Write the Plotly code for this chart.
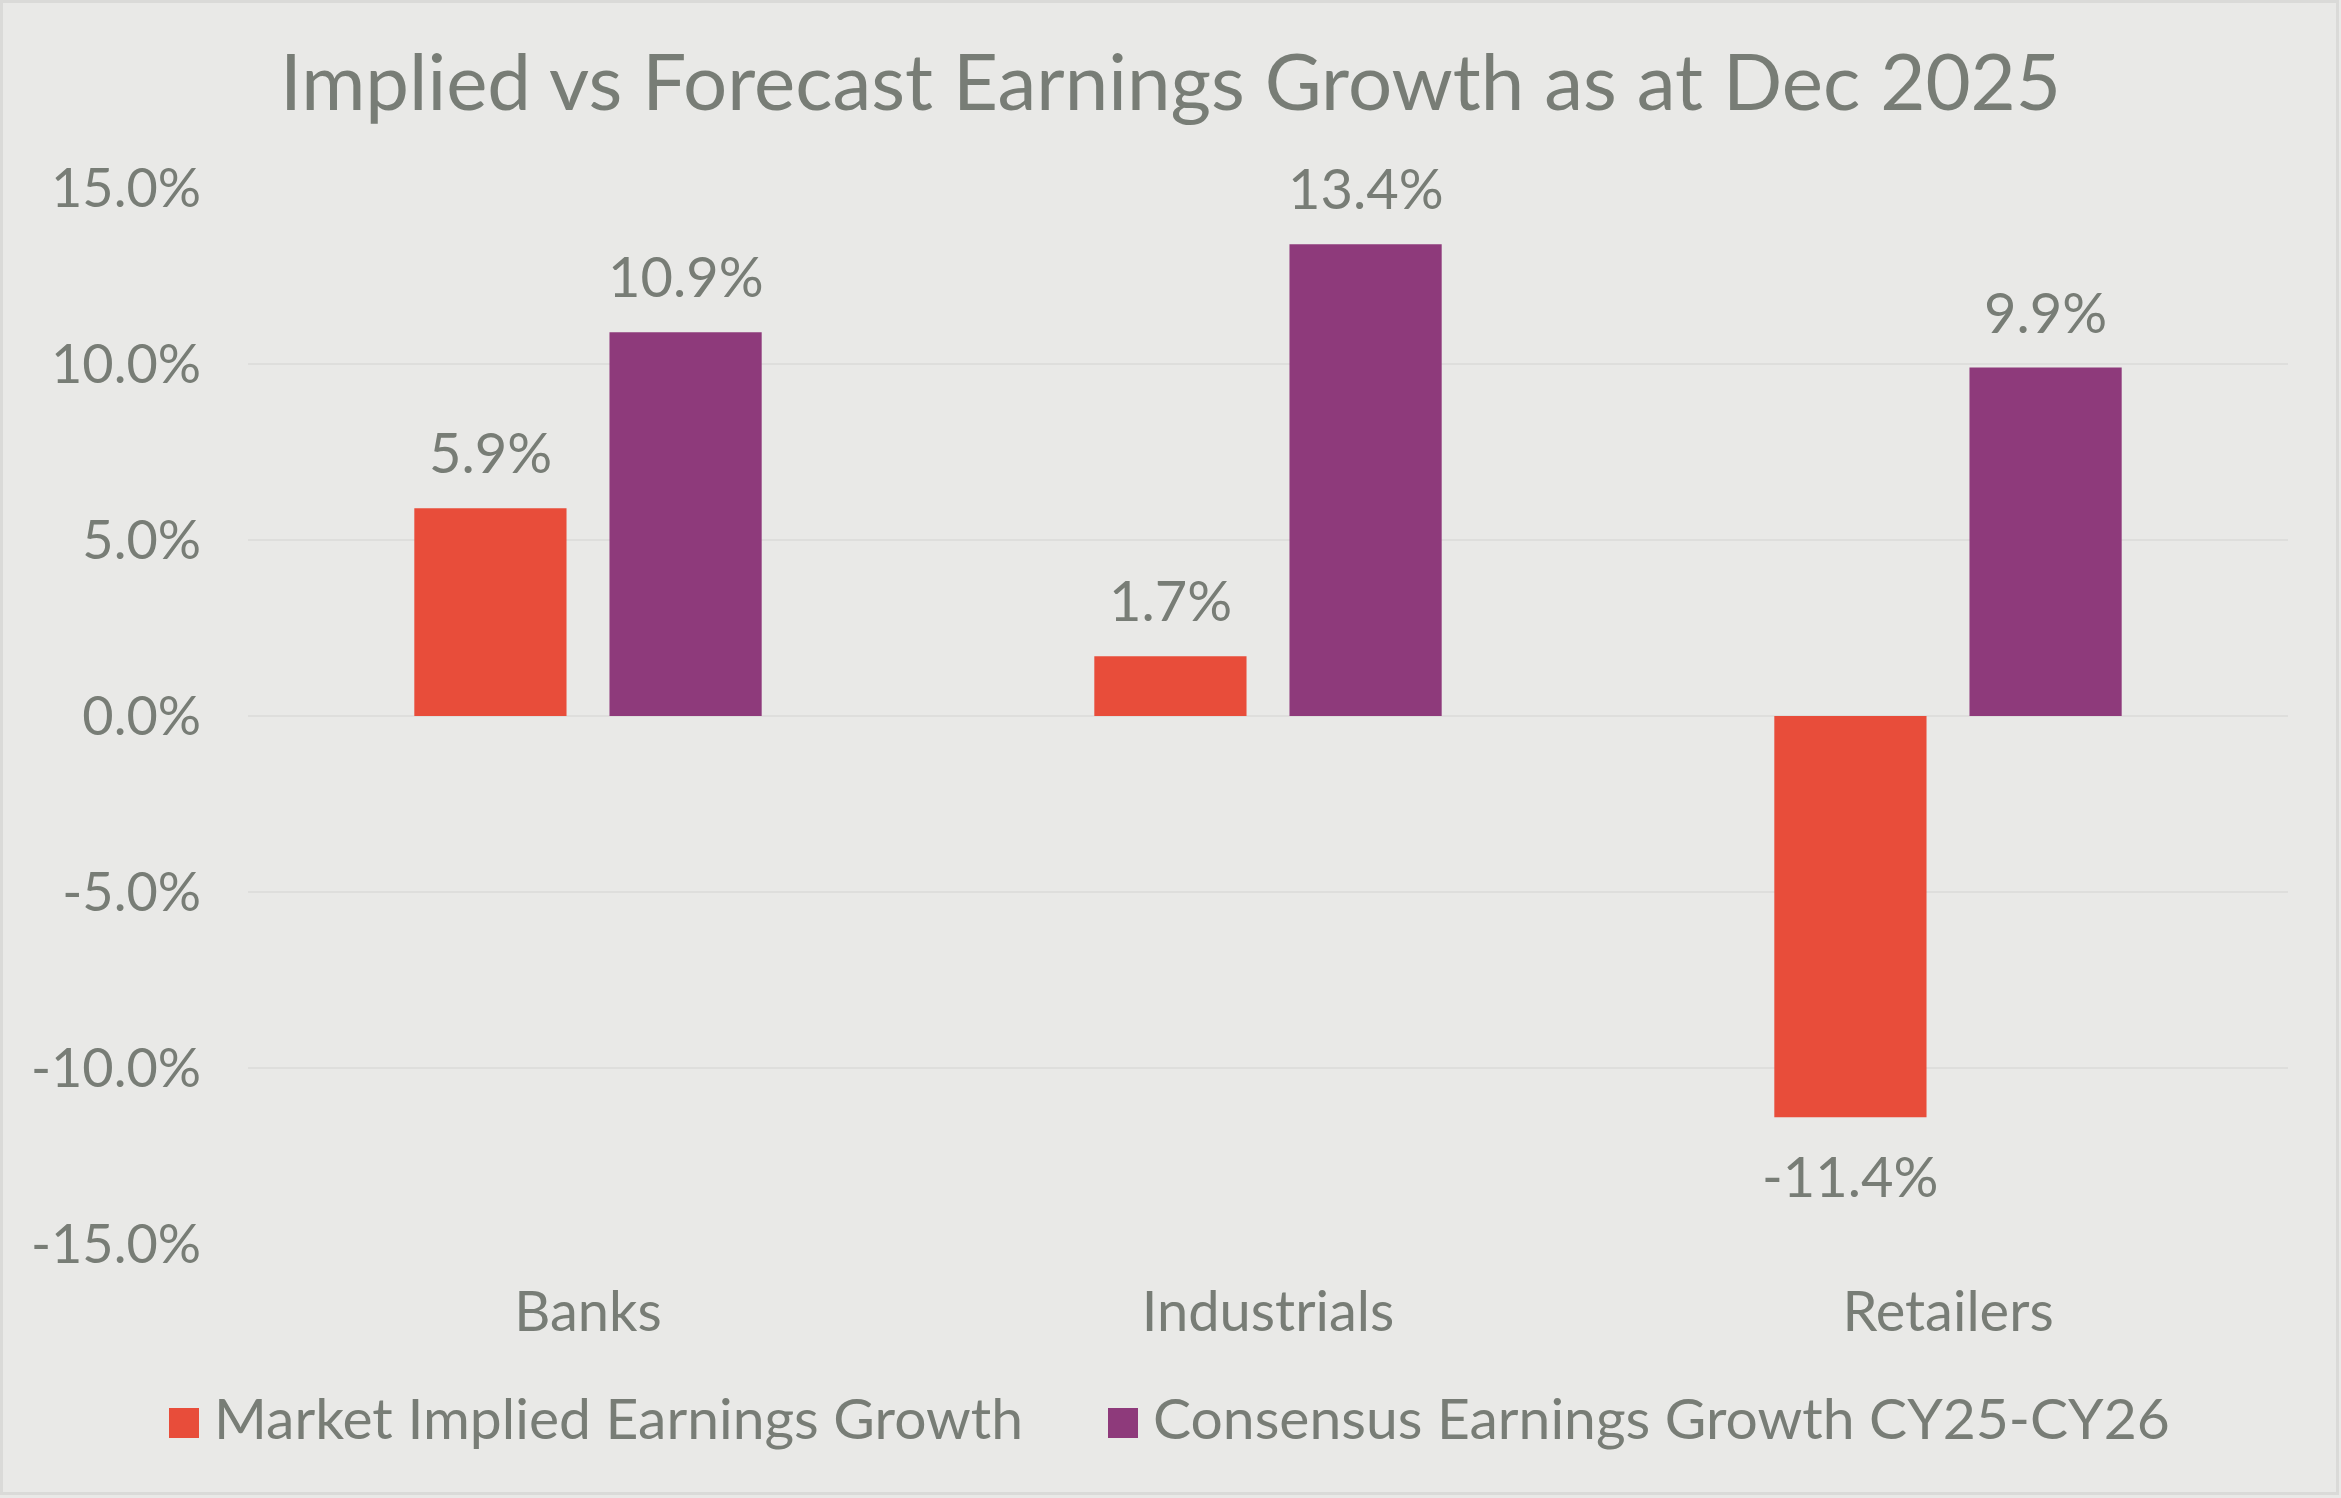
import plotly.graph_objects as go

categories = ["Banks", "Industrials", "Retailers"]
implied = [5.9, 1.7, -11.4]
consensus = [10.9, 13.4, 9.9]
series_names = ["Market Implied Earnings Growth", "Consensus Earnings Growth CY25-CY26"]
tick_vals = [-15, -10, -5, 0, 5, 10, 15]
tick_text = [f"{v:.1f}%" for v in tick_vals]

RED = "#E84D3A"
PURPLE = "#8E3A7B"
BG = "#E9E9E7"
TXT = "#787D76"
GRID = "#DEDEDC"
FONT = "Lato"

W, H = 2341, 1498
ML, MR, MT, MB = 248, 53, 188, 254
BARGAP = 0.426
GROUPGAP = 0.22

fig = go.Figure()
colors = [RED, PURPLE]
for name, vals, col in zip(series_names, [implied, consensus], colors):
    fig.add_trace(go.Bar(x=categories, y=vals, name=name, marker=dict(color=col, line=dict(width=0)),
                         showlegend=False))

# data labels via annotations at the bar values
plot_w = W - ML - MR
plot_h = H - MT - MB
cat_w = plot_w / len(categories)
slot = cat_w * (1 - BARGAP) / 2
for si, vals in enumerate([implied, consensus]):
    xs = (si - 0.5) * slot
    for c, v in zip(categories, vals):
        fig.add_annotation(x=c, y=v, text=f"{v:.1f}%", showarrow=False, xshift=xs,
                           yanchor="bottom" if v >= 0 else "top",
                           yshift=21 if v >= 0 else -23,
                           font=dict(family=FONT, size=56, color=TXT))

# custom legend
legend_items = [(169, series_names[0], RED), (1108, series_names[1], PURPLE)]
for x0, name, col in legend_items:
    fig.add_shape(type="rect", xref="paper", yref="paper",
                  x0=(x0 - ML) / plot_w, x1=(x0 + 30 - ML) / plot_w,
                  y0=(H - MB - 1438) / plot_h, y1=(H - MB - 1408) / plot_h,
                  fillcolor=col, line=dict(width=0), layer="above")
    fig.add_annotation(xref="paper", yref="paper", x=(x0 + 43 - ML) / plot_w,
                       y=(H - MB - 1417) / plot_h, xanchor="left", yanchor="middle",
                       text=name, showarrow=False, font=dict(family=FONT, size=57, color=TXT))

# outer border
fig.add_shape(type="rect", xref="paper", yref="paper",
              x0=(1.5 - ML) / plot_w, x1=(W - 3.5 - ML) / plot_w,
              y0=(H - MB - (H - 4.5)) / plot_h, y1=(H - MB - 1.5) / plot_h,
              line=dict(color="#DADAD8", width=3), fillcolor="rgba(0,0,0,0)", layer="below")

fig.update_layout(
    width=W, height=H,
    paper_bgcolor=BG, plot_bgcolor=BG,
    margin=dict(l=ML, r=MR, t=MT, b=MB, pad=0),
    barmode="group", bargap=BARGAP, bargroupgap=GROUPGAP,
    title=dict(text="Implied vs Forecast Earnings Growth as at Dec 2025",
               x=0.5, xanchor="center", xref="container",
               y=1 - 83 / H, yanchor="middle", yref="container",
               font=dict(family=FONT, size=78, color=TXT)),
    font=dict(family=FONT, color=TXT),
    showlegend=False,
    xaxis=dict(showgrid=False, showline=False, zeroline=False, ticks="",
               tickfont=dict(family=FONT, size=56, color=TXT), ticklabelstandoff=30),
    yaxis=dict(range=[-15, 15], tickvals=tick_vals, ticktext=tick_text,
               showgrid=True, gridcolor=GRID, gridwidth=2, zeroline=True,
               zerolinecolor=GRID, zerolinewidth=2, showline=False, ticks="",
               tickfont=dict(family=FONT, size=54, color=TXT), ticklabelstandoff=46),
)

fig.write_html("out.html")
